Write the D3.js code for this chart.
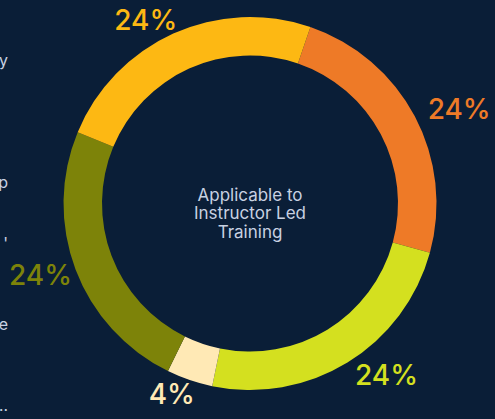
<!DOCTYPE html>
<html><head><meta charset="utf-8">
<script src="https://cdn.jsdelivr.net/npm/d3@7"></script>
<style>html,body{margin:0;padding:0;background:#0A1E37;overflow:hidden}</style>
</head><body><svg id="c" width="495" height="419"></svg>
<script>
// Data
const categories = ["Orange", "Lime", "Cream", "Olive", "Gold"];
const values = [24, 24, 4, 24, 24];
const colors = ["#EE7A27", "#D4E01F", "#FFE9B5", "#7D8309", "#FDB813"];
const centerLines = ["Applicable to", "Instructor Led", "Training"];
const legendLabels = ["Safety Policy", "Onboarding Workshop", "Instructor '", "Compliance Course", "Leadership Development…"];
const legendRows = [0, 6, 9, 13, 17];

const W = 495, H = 419;
const cx = 250, cy = 203.5;
const outerR = 186.5, innerR = 148;
const startDeg = 18.9;

const svg = d3.select("#c");
svg.append("rect").attr("width", W).attr("height", H).attr("fill", "#0A1E37");

const pie = d3.pie().sort(null).value(d => d)
  .startAngle(startDeg * Math.PI / 180)
  .endAngle((startDeg + 360) * Math.PI / 180);
const arcs = pie(values);
const arc = d3.arc().innerRadius(innerR).outerRadius(outerR);

const g = svg.append("g").attr("transform", `translate(${cx},${cy})`);
g.selectAll("path.slice").data(arcs).join("path")
  .attr("class", "slice")
  .attr("d", arc)
  .attr("fill", (d, i) => colors[i]);

// labels
const labelR = 201;
const leftPad = 10;
g.selectAll("text.lbl").data(arcs).join("text")
  .attr("class", "lbl")
  .each(function(d, i) {
    const a = (d.startAngle + d.endAngle) / 2;
    const right = Math.sin(a) >= 0;
    const x = labelR * Math.sin(a) + (right ? 0 : leftPad);
    const y = -labelR * Math.cos(a);
    d3.select(this)
      .attr("x", x).attr("y", y)
      .attr("text-anchor", right ? "start" : "end")
      .attr("dominant-baseline", "central");
  })
  .attr("fill", (d, i) => colors[i])
  .attr("font-family", "Inter, Lato, sans-serif")
  .attr("font-weight", 500)
  .attr("font-size", 28)
  .text(d => d.data + "%");

// center text
g.append("text")
  .attr("text-anchor", "middle")
  .attr("fill", "#C8D1E2")
  .attr("font-family", "Inter, Lato, sans-serif")
  .attr("font-size", 17)
  .selectAll("tspan").data(centerLines).join("tspan")
  .attr("x", 0)
  .attr("y", (d, i) => -3 + i * 18.7)
  .text(d => d);

// cut-off legend on the left
const legendY = d3.scaleLinear().domain([0, 17]).range([66, 411]);
svg.append("g").selectAll("text").data(legendLabels).join("text")
  .attr("x", 8)
  .attr("y", (d, i) => legendY(legendRows[i]))
  .attr("text-anchor", "end")
  .attr("fill", "#C8D1E2")
  .attr("font-family", "Inter, Lato, sans-serif")
  .attr("font-size", 16)
  .text(d => d);
</script></body></html>
